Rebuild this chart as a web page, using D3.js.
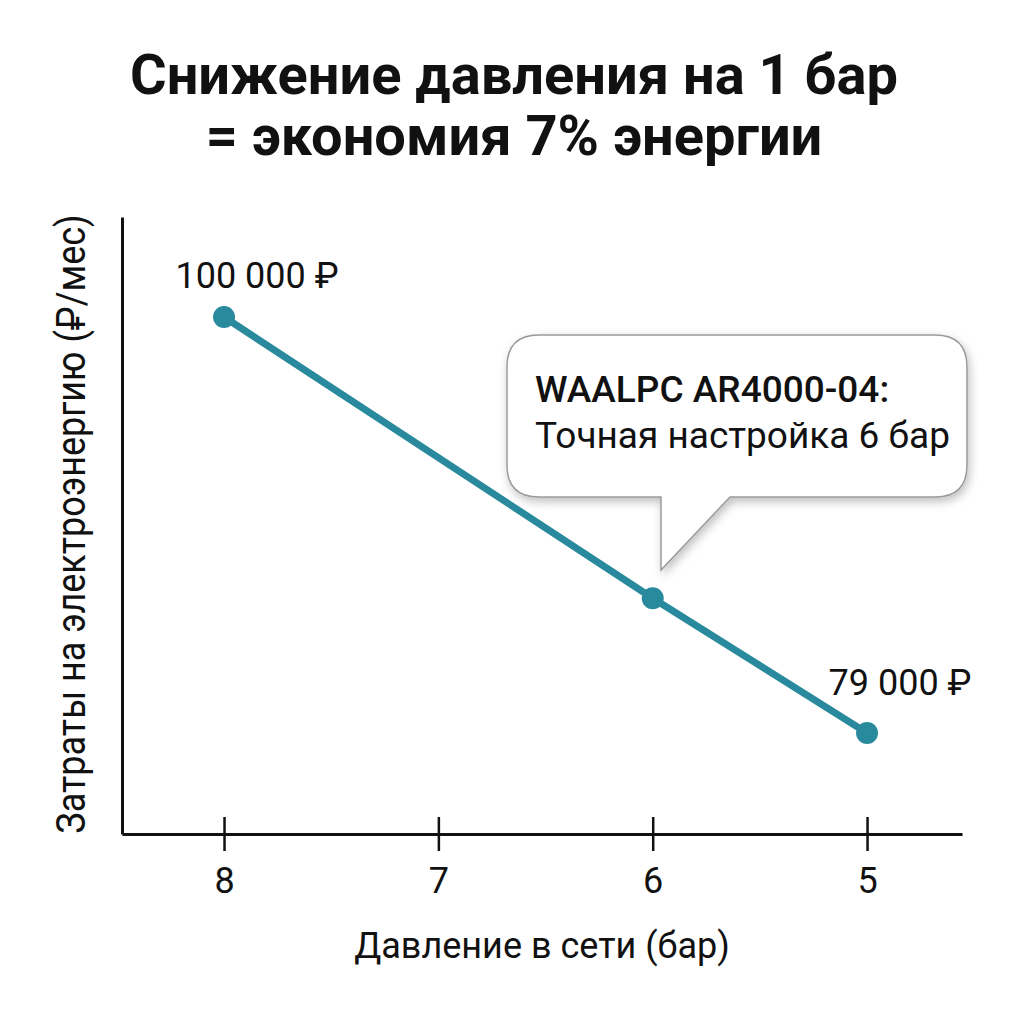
<!DOCTYPE html>
<html>
<head>
<meta charset="utf-8">
<script src="https://cdn.jsdelivr.net/npm/d3@7"></script>
<style>
  body { margin: 0; background: #fff; }
  text { font-family: Roboto, "Noto Sans", sans-serif; fill: #111; }
</style>
</head>
<body>
<svg id="chart" width="1024" height="1024"></svg>
<script>
// data
var pressure = [8, 6, 5];
var cost = [100000, 85800, 79000];
var tickValues = [8, 7, 6, 5];
var pointLabels = ["100 000 ₽", "", "79 000 ₽"];
var titleLines = ["Снижение давления на 1 бар", "= экономия 7% энергии"];
var calloutLines = ["WAALPC AR4000-04:", "Точная настройка 6 бар"];

var lineColor = "#2a8a9d";
var labelLift = [29, 0, 38];   // how far each value label sits above its dot

var svg = d3.select("#chart");

var x = d3.scaleLinear().domain([8.476, 4.557]).range([122, 962]);
var y = d3.scaleLinear().domain([73900, 105050]).range([834, 217]);

// shadow for the callout
var defs = svg.append("defs");
var f = defs.append("filter").attr("id", "shadow")
  .attr("x", "-10%").attr("y", "-10%").attr("width", "130%").attr("height", "140%");
f.append("feDropShadow").attr("dx", 2).attr("dy", 4).attr("stdDeviation", 5)
  .attr("flood-color", "#000").attr("flood-opacity", 0.25);

// title
svg.selectAll(".title").data(titleLines).enter()
  .append("text")
  .attr("class", "title")
  .attr("x", 514)
  .attr("y", function (d, i) { return 94 + i * 61; })
  .attr("text-anchor", "middle")
  .style("font-size", "56px")
  .style("font-weight", "bold")
  .text(function (d) { return d; });

// x axis
var xAxis = d3.axisBottom(x).tickValues(tickValues).tickSizeInner(17).tickSizeOuter(0)
  .tickPadding(16).tickFormat(d3.format("d"));
var gx = svg.append("g").attr("transform", "translate(0,834)").call(xAxis);
gx.select(".domain").attr("stroke", "#111").attr("stroke-width", 3);
gx.selectAll(".tick line").attr("y1", -17).attr("stroke", "#111").attr("stroke-width", 2.5);
gx.selectAll(".tick text")
  .style("font-size", "36px").style("font-family", "Roboto").attr("fill", "#111");

// y axis (line only)
var yAxis = d3.axisLeft(y).tickValues([]).tickSizeOuter(0);
var gy = svg.append("g").attr("transform", "translate(122,0)").call(yAxis);
gy.select(".domain").attr("stroke", "#111").attr("stroke-width", 3);

// axis titles
svg.append("text")
  .attr("x", 542).attr("y", 958)
  .attr("text-anchor", "middle")
  .style("font-size", "36px")
  .text("Давление в сети (бар)");

svg.append("text")
  .attr("transform", "translate(85,524) rotate(-90) scale(0.9,1)")
  .attr("text-anchor", "middle")
  .style("font-size", "40px")
  .text("Затраты на электроэнергию (₽/мес)");

// line + points
var pts = pressure.map(function (p, i) {
  return { p: p, c: cost[i], label: pointLabels[i], lift: labelLift[i] };
});

var line = d3.line()
  .x(function (d) { return x(d.p); })
  .y(function (d) { return y(d.c); });

svg.append("path")
  .datum(pts)
  .attr("d", line)
  .attr("fill", "none")
  .attr("stroke", lineColor)
  .attr("stroke-width", 7);

svg.selectAll(".pt").data(pts).enter()
  .append("circle")
  .attr("class", "pt")
  .attr("cx", function (d) { return x(d.p); })
  .attr("cy", function (d) { return y(d.c); })
  .attr("r", 11)
  .attr("fill", lineColor);

svg.selectAll(".plabel").data(pts).enter()
  .append("text")
  .attr("class", "plabel")
  .attr("x", function (d) { return x(d.p) + 33; })
  .attr("y", function (d) { return y(d.c) - d.lift; })
  .attr("text-anchor", "middle")
  .style("font-size", "36px")
  .text(function (d) { return d.label; });

// callout bubble pointing at the 6 bar point
var bx = 507, by = 335, bw = 460, bh = 162, r = 32;
var tipX = 661, tipY = 570;
var baseR = 730;
var bubble = "M" + (bx + r) + "," + by +
  " H" + (bx + bw - r) +
  " Q" + (bx + bw) + "," + by + " " + (bx + bw) + "," + (by + r) +
  " V" + (by + bh - r) +
  " Q" + (bx + bw) + "," + (by + bh) + " " + (bx + bw - r) + "," + (by + bh) +
  " H" + baseR +
  " L" + tipX + "," + tipY +
  " V" + (by + bh) +
  " H" + (bx + r) +
  " Q" + bx + "," + (by + bh) + " " + bx + "," + (by + bh - r) +
  " V" + (by + r) +
  " Q" + bx + "," + by + " " + (bx + r) + "," + by + " Z";

svg.append("path")
  .attr("d", bubble)
  .attr("fill", "#fff")
  .attr("stroke", "#9a9a9a")
  .attr("stroke-width", 1.5)
  .attr("filter", "url(#shadow)");

svg.selectAll(".callout").data(calloutLines).enter()
  .append("text")
  .attr("class", "callout")
  .attr("x", 535)
  .attr("y", function (d, i) { return 402 + i * 46; })
  .style("font-size", "37px")
  .style("font-weight", function (d, i) { return i === 0 ? 500 : 400; })
  .text(function (d) { return d; });
</script>
</body>
</html>
